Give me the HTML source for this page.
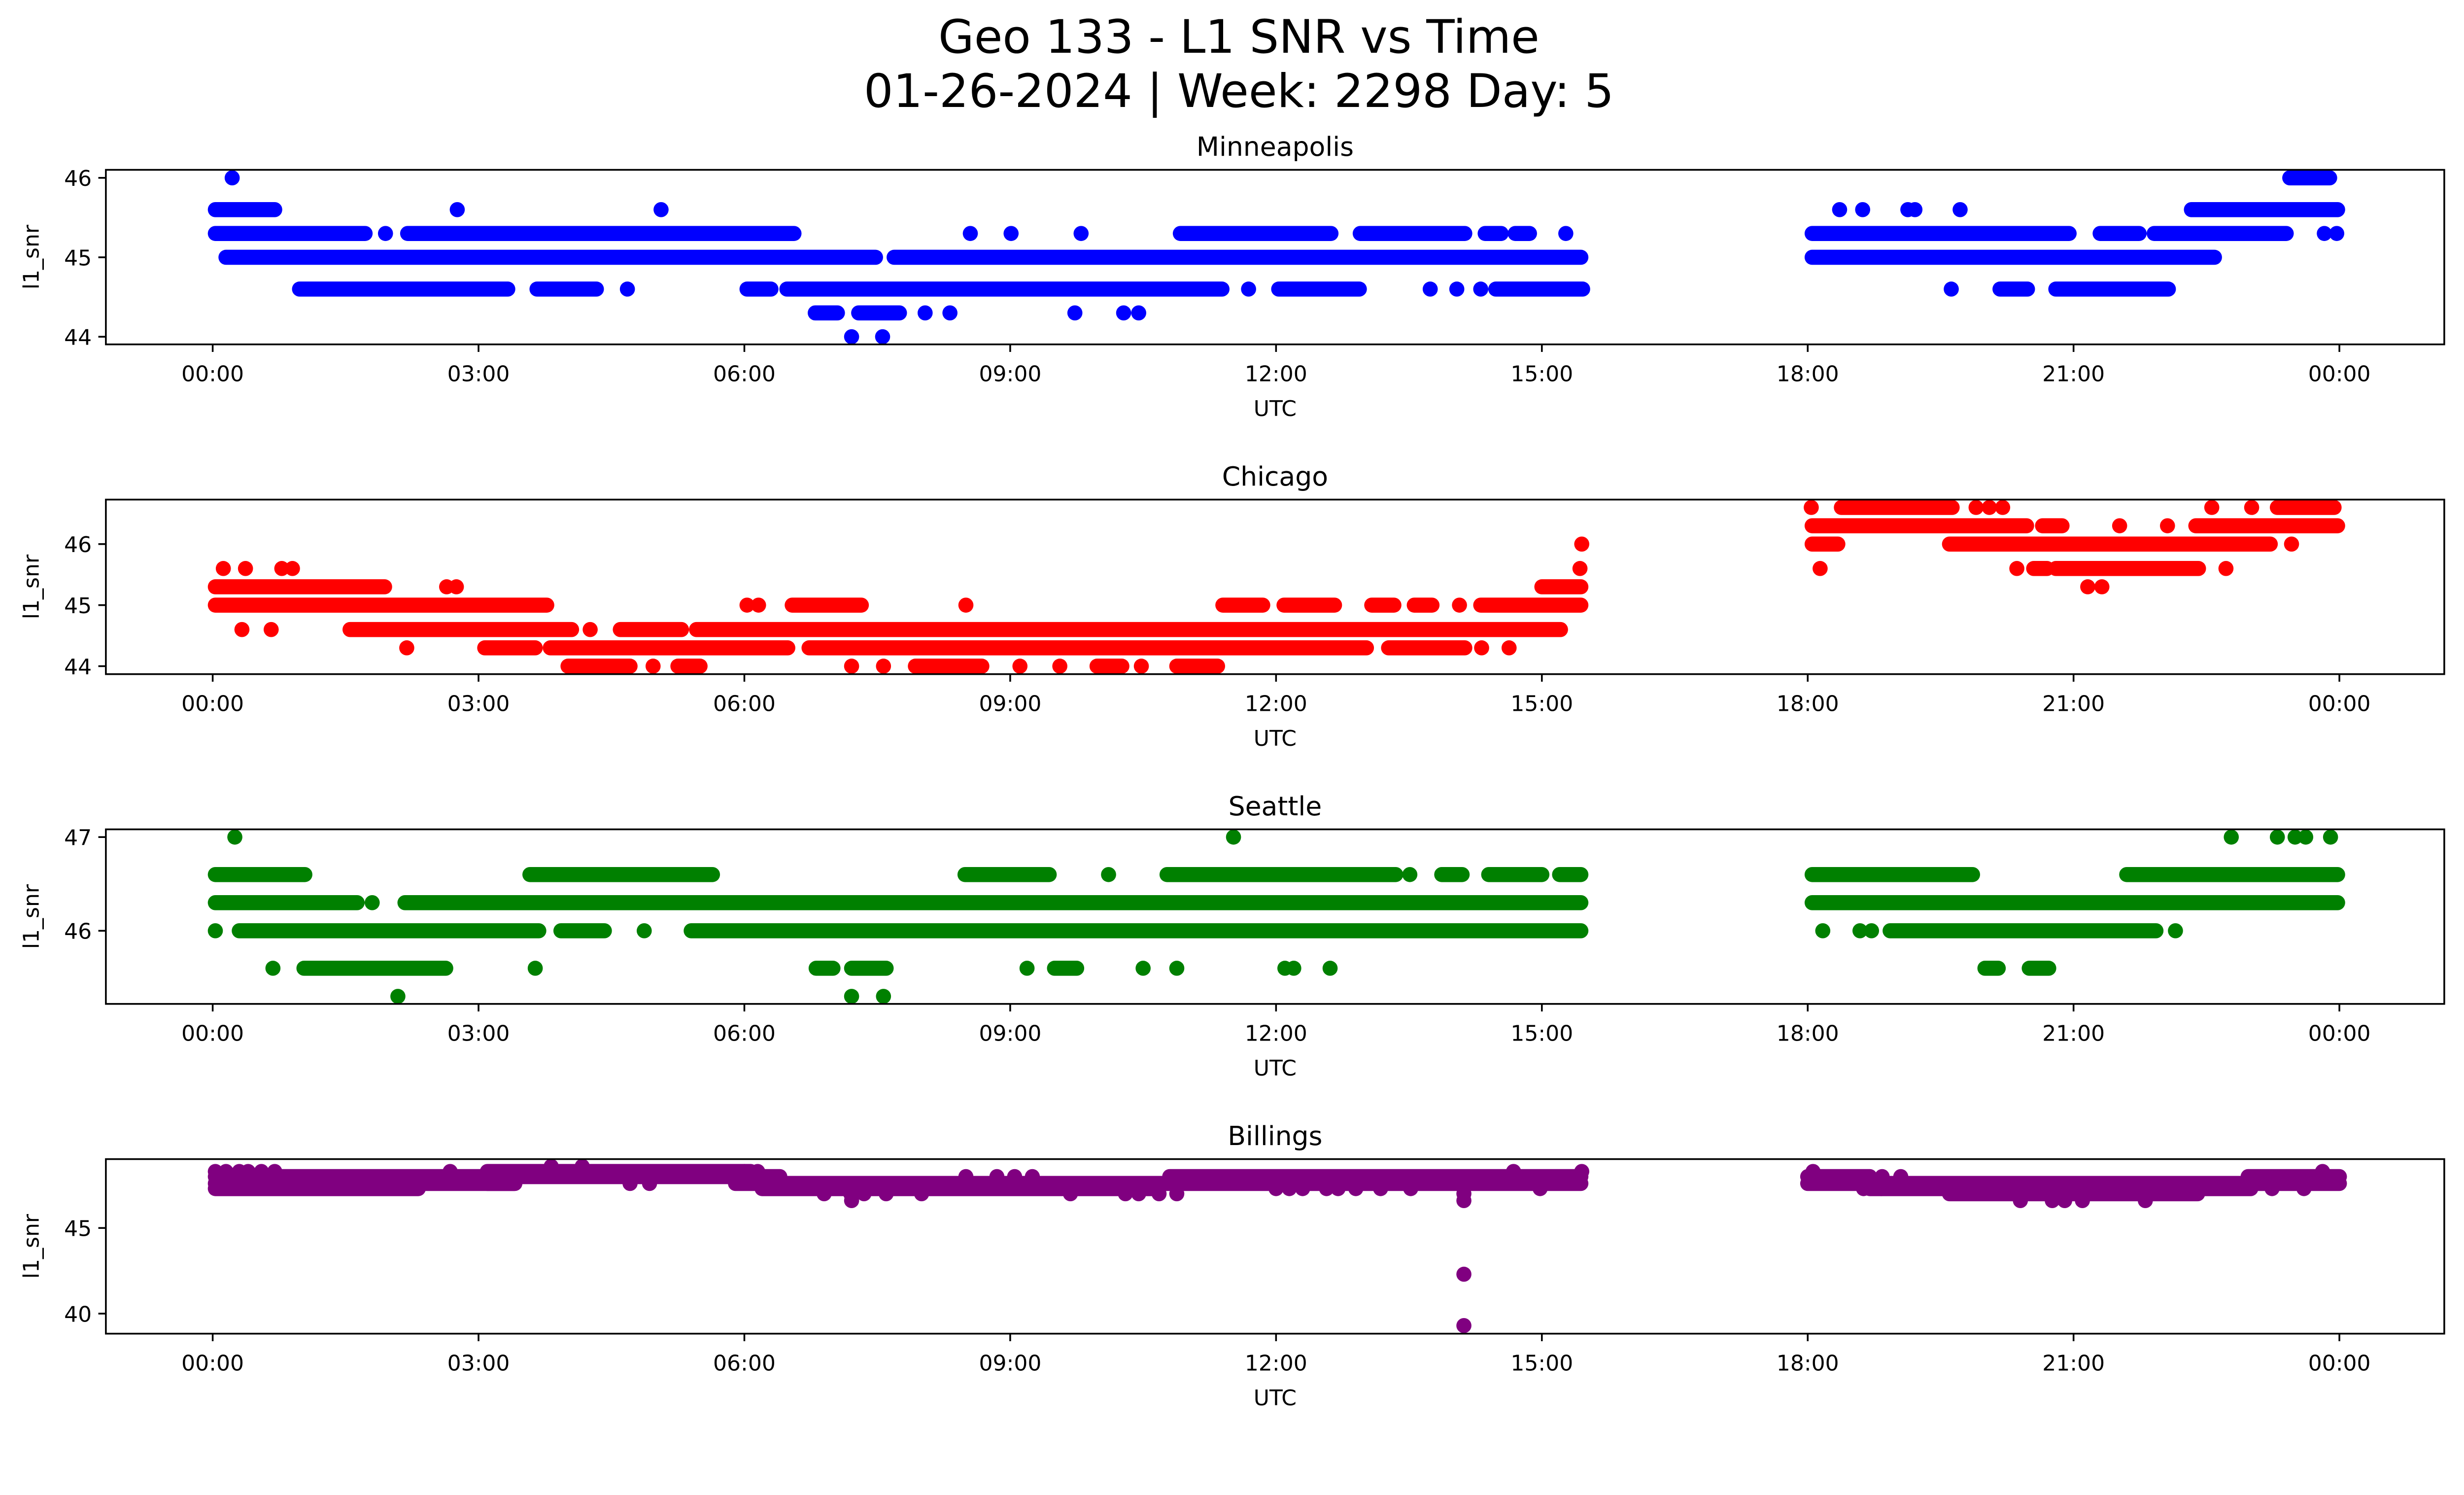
<!DOCTYPE html>
<html><head><meta charset="utf-8"><style>
html,body{margin:0;padding:0;background:#fff;}
svg{display:block;font-family:"DejaVu Sans","Liberation Sans",sans-serif;}
</style></head><body>
<svg id="fig" xmlns="http://www.w3.org/2000/svg" width="5226" height="3033" viewBox="0 0 5461 3169" preserveAspectRatio="none">
<rect width="5461" height="3169" fill="#fff"/>
<text x="2627" y="112" font-size="98" text-anchor="middle">Geo 133 - L1 SNR vs Time</text>
<text x="2627" y="227" font-size="98" text-anchor="middle">01-26-2024 | Week: 2298 Day: 5</text>
</svg>
<script>
// ---- data (hours UTC, SNR values) ----
const xTickHours = [0,3,6,9,12,15,18,21,24];
const xTickLabels = ["00:00","03:00","06:00","09:00","12:00","15:00","18:00","21:00","00:00"];
const panelNames = ["Minneapolis","Chicago","Seattle","Billings"];
const panelColors = ["#0000ff","#ff0000","#008000","#800080"];
const mplsYTicks = [44,45,46];
const chiYTicks = [44,45,46];
const seaYTicks = [46,47];
const bilYTicks = [40,45];
// runs: [startHour, endHour, value]
const mplsRuns = [[0.03,0.70,45.6],[22.33,23.98,45.6],[23.44,23.89,46],
 [0.03,1.72,45.3],[2.2,6.56,45.3],[10.92,12.62,45.3],[12.95,14.13,45.3],[14.36,14.54,45.3],[14.7,14.86,45.3],[18.05,20.95,45.3],[21.3,21.74,45.3],[21.91,23.4,45.3],
 [0.15,7.48,45],[7.69,15.44,45],[18.05,22.59,45],
 [0.98,3.33,44.6],[3.66,4.33,44.6],[6.03,6.3,44.6],[6.48,11.39,44.6],[12.03,12.94,44.6],[14.48,15.46,44.6],[20.17,20.48,44.6],[20.8,22.07,44.6],
 [7.29,7.75,44.3],[6.8,7.05,44.3]];
const mplsPoints = [[0.22,46],[2.76,45.6],[5.06,45.6],[18.36,45.6],[18.62,45.6],[19.13,45.6],[19.21,45.6],[19.72,45.6],
 [1.95,45.3],[8.55,45.3],[9.01,45.3],[9.8,45.3],[15.27,45.3],[23.83,45.3],[23.97,45.3],
 [4.68,44.6],[11.69,44.6],[13.74,44.6],[14.04,44.6],[14.31,44.6],[19.62,44.6],
 [8.04,44.3],[8.32,44.3],[9.73,44.3],[10.28,44.3],[10.45,44.3],[7.21,44],[7.56,44]];
const chiRuns = [[18.38,19.63,46.6],[23.3,23.94,46.6],
 [18.05,20.47,46.3],[20.65,20.87,46.3],[22.38,23.98,46.3],
 [18.05,18.34,46],[19.6,23.22,46],
 [20.55,20.7,45.6],[20.8,22.41,45.6],
 [0.03,1.94,45.3],[15.0,15.44,45.3],
 [0.03,3.77,45],[6.54,7.32,45],[11.4,11.85,45],[12.09,12.66,45],[13.08,13.33,45],[13.56,13.76,45],[14.31,15.44,45],
 [1.55,4.05,44.6],[4.6,5.29,44.6],[5.46,15.21,44.6],
 [3.07,3.64,44.3],[3.81,6.49,44.3],[6.73,13.02,44.3],[13.27,14.13,44.3],
 [4.01,4.71,44],[5.25,5.5,44],[7.93,8.68,44],[9.98,10.26,44],[10.88,11.34,44]];
const chiPoints = [[18.04,46.6],[19.9,46.6],[20.05,46.6],[20.2,46.6],[22.56,46.6],[23.01,46.6],
 [21.52,46.3],[22.06,46.3],[15.45,46],[23.46,46],
 [0.12,45.6],[0.37,45.6],[0.78,45.6],[0.9,45.6],[15.43,45.6],[18.14,45.6],[20.36,45.6],[22.72,45.6],
 [2.64,45.3],[2.75,45.3],[21.16,45.3],[21.32,45.3],
 [6.03,45],[6.16,45],[8.5,45],[14.07,45],
 [0.33,44.6],[0.66,44.6],[4.26,44.6],
 [2.19,44.3],[14.32,44.3],[14.63,44.3],
 [4.97,44],[7.21,44],[7.57,44],[9.11,44],[9.56,44],[10.48,44]];
const seaRuns = [[0.03,1.04,46.6],[3.58,5.64,46.6],[8.49,9.44,46.6],[10.77,13.35,46.6],[13.87,14.1,46.6],[14.4,15.0,46.6],[15.2,15.44,46.6],[18.05,19.86,46.6],[21.6,23.98,46.6],
 [0.03,1.63,46.3],[2.17,15.44,46.3],[18.05,23.98,46.3],
 [0.3,3.68,46],[3.93,4.42,46],[5.4,15.44,46],[18.93,21.93,46],
 [1.03,2.63,45.6],[6.81,7.0,45.6],[7.21,7.6,45.6],[9.5,9.75,45.6],[20.0,20.15,45.6],[20.5,20.72,45.6]];
const seaPoints = [[0.25,47],[11.52,47],[22.78,47],[23.3,47],[23.5,47],[23.62,47],[23.9,47],
 [10.11,46.6],[13.51,46.6],[1.8,46.3],
 [0.03,46],[4.87,46],[18.17,46],[18.59,46],[18.72,46],[22.15,46],
 [0.68,45.6],[3.64,45.6],[9.19,45.6],[10.5,45.6],[10.88,45.6],[12.1,45.6],[12.2,45.6],[12.61,45.6],
 [2.09,45.3],[7.21,45.3],[7.57,45.3]];
const bilRuns = [[0.03,3.41,48.0],[3.1,6.4,48.0],[10.8,15.44,48.0],[18.0,18.7,48.0],[22.97,24.0,48.0],
 [3.1,6.07,48.3],
 [0.03,3.41,47.6],[3.1,3.4,47.6],[5.9,15.44,47.6],[18.0,24.0,47.6],
 [0.03,2.32,47.3],[6.2,10.6,47.3],[18.7,23.0,47.3],
 [19.6,22.4,47.0]];
const bilPoints = [[0.03,48.3],[0.15,48.3],[0.3,48.3],[0.4,48.3],[0.55,48.3],[0.7,48.3],[2.68,48.3],[6.0,48.3],[6.15,48.3],[14.68,48.3],[15.45,48.3],[18.06,48.3],[23.81,48.3],
 [3.82,48.6],[4.17,48.6],[4.71,47.6],[4.93,47.6],
 [8.5,48.0],[8.85,48.0],[9.05,48.0],[9.25,48.0],[18.84,48.0],[19.05,48.0],
 [6.9,47.0],[7.2,47.0],[7.35,47.0],[7.6,47.0],[8.0,47.0],[9.68,47.0],[10.3,47.0],[10.45,47.0],[10.68,47.0],[10.88,47.0],[14.12,47.0],
 [7.21,46.6],[14.12,46.6],[20.4,46.6],[20.76,46.6],[20.9,46.6],[21.1,46.6],[21.81,46.6],
 [12.0,47.3],[12.15,47.3],[12.3,47.3],[12.57,47.3],[12.7,47.3],[12.9,47.3],[13.18,47.3],[13.52,47.3],[14.98,47.3],[14.12,47.3],[18.63,47.3],[18.83,47.3],[23.24,47.3],[23.6,47.3],
 [14.12,42.3],[14.12,39.3]];

// ---- layout ----
const NS = "http://www.w3.org/2000/svg";
const svg = document.getElementById('fig');
const AX_L = 224.5, AX_R = 5183, AX_H = 370;
const axTops = [360,1059,1758,2457];
const yScales = [[45,185.4,168.4],[45,223.7,129.4],[46,215,198.6],[45,146,36.3]];
const R = 16;
function xPos(h){ return 451 + h*187.9; }
function mk(tag, attrs){ const e=document.createElementNS(NS,tag); for(const k in attrs) e.setAttribute(k, attrs[k]); return e; }

const allRuns = [mplsRuns, chiRuns, seaRuns, bilRuns];
const allPoints = [mplsPoints, chiPoints, seaPoints, bilPoints];
const allYTicks = [mplsYTicks, chiYTicks, seaYTicks, bilYTicks];

for (let p=0; p<4; p++){
  const top = axTops[p], bot = top + AX_H;
  const sc = yScales[p];
  const yPos = v => top + sc[1] - (v - sc[0])*sc[2];
  const g = mk('g', {});
  
  
  svg.appendChild(g);
  const clipId = 'clip'+p;
  const cp = mk('clipPath', {id: clipId});
  cp.appendChild(mk('rect', {x:AX_L, y:top, width:AX_R-AX_L, height:AX_H}));
  g.appendChild(cp);
  const marks = mk('g', {'clip-path':'url(#'+clipId+')', fill: panelColors[p], stroke: panelColors[p]});
  
  
  g.appendChild(marks);
  allRuns[p].forEach(r => {
    const ln = mk('line', {x1:xPos(r[0]), x2:xPos(r[1]), y1:yPos(r[2]), y2:yPos(r[2]), 'stroke-width':2*R, 'stroke-linecap':'round'});
    
    
    marks.appendChild(ln);
  });
  allPoints[p].forEach(pt => {
    const c = mk('circle', {cx:xPos(pt[0]), cy:yPos(pt[1]), r:R, stroke:'none'});
    
    
    marks.appendChild(c);
  });
  const frame = mk('rect', {x:AX_L, y:top, width:AX_R-AX_L, height:AX_H, fill:'none', stroke:'#000', 'stroke-width':3.7});
  
  
  g.appendChild(frame);
  xTickHours.forEach((h,i) => {
    const x = xPos(h);
    const t = mk('line', {x1:x, x2:x, y1:bot, y2:bot+16, stroke:'#000', 'stroke-width':3.7});
    
    
    g.appendChild(t);
    const tl = mk('text', {x:x, y:bot+78, 'font-size':46, 'text-anchor':'middle'});
    
    
    tl.textContent = xTickLabels[i];
    g.appendChild(tl);
  });
  allYTicks[p].forEach(v => {
    const y = yPos(v);
    const t = mk('line', {x1:AX_L-16, x2:AX_L, y1:y, y2:y, stroke:'#000', 'stroke-width':3.7});
    
    
    g.appendChild(t);
    const tl = mk('text', {x:AX_L-30, y:y+17, 'font-size':46, 'text-anchor':'end'});
    
    
    tl.textContent = String(v);
    g.appendChild(tl);
  });
  const xt = mk('text', {x:(AX_L+AX_R)/2, y:bot+152, 'font-size':46, 'text-anchor':'middle'});
  
  
  xt.textContent = 'UTC';
  g.appendChild(xt);
  const yt = mk('text', {x:0, y:0, 'font-size':46, 'text-anchor':'middle', transform:'translate(82,'+(top+AX_H/2)+') rotate(-90)'});
  
  
  yt.textContent = 'l1_snr';
  g.appendChild(yt);
  const ttl = mk('text', {x:(AX_L+AX_R)/2, y:top-30, 'font-size':56, 'text-anchor':'middle'});
  
  
  ttl.textContent = panelNames[p];
  g.appendChild(ttl);
}
</script>
</body></html>
